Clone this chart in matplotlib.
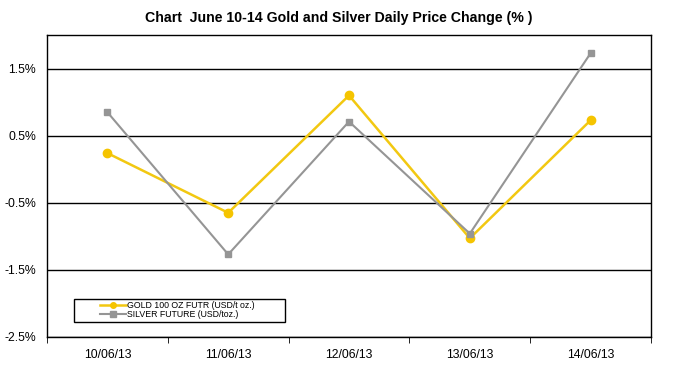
import numpy as np
import matplotlib
matplotlib.use('Agg')
import matplotlib.pyplot as plt
from matplotlib.patches import Rectangle

plt.rcParams['font.family'] = ['Liberation Sans', 'DejaVu Sans']

# Chart data (daily % change)
dates = ['10/06/13', '11/06/13', '12/06/13', '13/06/13', '14/06/13']
gold = [0.24, -0.65, 1.10, -1.03, 0.73]
silver = [0.85, -1.27, 0.71, -0.96, 1.73]
yticks = [-2.5, -1.5, -0.5, 0.5, 1.5]
ytick_labels = ['-2.5%', '-1.5%', '-0.5%', '0.5%', '1.5%']

fig = plt.figure(figsize=(6.81, 3.69), dpi=100)
ax = fig.add_axes([0.069, 0.087, 0.887, 0.818])

x = np.arange(len(dates))
ax.plot(x, gold, color='#F2C811', lw=1.8, marker='o', ms=6,
        mfc='#F5C400', mec='#F5C400', label='GOLD 100 OZ FUTR (USD/t oz.)', zorder=3)
ax.plot(x, silver, color='#959595', lw=1.5, marker='s', ms=4.5,
        mfc='#959595', mec='#959595', label='SILVER FUTURE (USD/toz.)', zorder=3)

ax.set_xlim(-0.5, len(dates) - 0.5)
ax.set_ylim(-2.5, 2.0)
ax.set_yticks(yticks)
ax.set_yticklabels(ytick_labels, fontsize=8.8)
ax.yaxis.grid(True, color='black', lw=1)
ax.set_axisbelow(True)

# category labels centred, tick marks between categories
ax.set_xticks(x)
ax.set_xticklabels(dates, fontsize=8.8)
ax.tick_params(axis='x', length=0, pad=9)
ax.set_xticks(np.arange(len(dates) + 1) - 0.5, minor=True)
ax.tick_params(axis='x', which='minor', length=4, direction='out')
ax.tick_params(axis='y', length=0, pad=8)

for s in ax.spines.values():
    s.set_color('black')
    s.set_linewidth(1)

# legend box drawn separately, entries set in from its left edge
ax.add_patch(Rectangle((0.045, 0.05), 0.349, 0.076, transform=ax.transAxes,
                       fill=True, facecolor='white', edgecolor='black', lw=1, zorder=4))
leg = ax.legend(loc='center left', bbox_to_anchor=(0.088, 0.088),
                fontsize=6.3, frameon=False, labelspacing=0.0,
                handlelength=2.9, handletextpad=0.2, borderpad=0, borderaxespad=0)
leg.set_zorder(5)
for h in leg.legend_handles:
    h.set_markersize(4)

fig.text(0.497, 0.951, 'Chart  June 10-14 Gold and Silver Daily Price Change (% )',
         ha='center', va='center', fontsize=10.2, fontweight='bold')

fig.savefig('out.png', dpi=100)
